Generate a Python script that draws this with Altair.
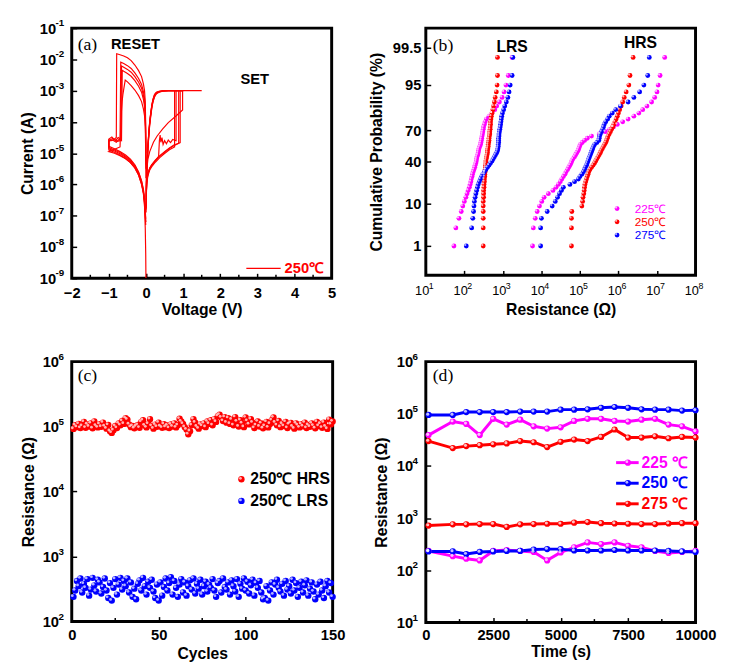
import altair as alt
import pandas as pd
from statistics import NormalDist

FONT = "Liberation Sans"
SERIF = "Liberation Serif"
RED, MAG, BLUE = "#ff0000", "#ff00ff", "#0000ff"

# ---------------- (a) I-V curves: (V, log10 I) ----------------
NEG_1 = [(-0.003, -5.0), (-0.01, -4.0), (-0.02, -3.35), (-0.04, -3.0), (-0.07, -2.78), (-0.12, -2.55),
         (-0.2, -2.36), (-0.3, -2.18), (-0.4, -2.04), (-0.5, -1.95), (-0.6, -1.89), (-0.7, -1.85),
         (-0.79, -1.82), (-0.8, -4.5), (-0.86, -4.56), (-0.92, -4.48), (-1.0, -4.55), (-1.0, -4.9),
         (-0.85, -4.97), (-0.7, -5.06), (-0.55, -5.17), (-0.42, -5.3), (-0.3, -5.47), (-0.2, -5.7),
         (-0.12, -6.0), (-0.07, -6.3), (-0.04, -6.7), (-0.02, -7.4), (-0.008, -8.2), (-0.002, -9.0)]
NEG_2 = [(-0.003, -5.25), (-0.01, -4.25), (-0.02, -3.6), (-0.04, -3.25), (-0.07, -3.03), (-0.12, -2.8),
         (-0.2, -2.61), (-0.3, -2.43), (-0.4, -2.29), (-0.5, -2.2), (-0.6, -2.13), (-0.68, -2.09),
         (-0.7, -4.6), (-0.78, -4.62), (-0.85, -4.55), (-0.93, -4.6), (-1.0, -4.57), (-1.0, -4.86),
         (-0.85, -4.93), (-0.7, -5.02), (-0.55, -5.13), (-0.42, -5.26), (-0.3, -5.43), (-0.2, -5.66),
         (-0.12, -5.95), (-0.07, -6.25), (-0.04, -6.6), (-0.02, -7.0), (-0.008, -7.3)]
NEG_3 = [(-0.003, -5.37), (-0.01, -4.37), (-0.02, -3.72), (-0.04, -3.37), (-0.07, -3.15), (-0.12, -2.92),
         (-0.2, -2.73), (-0.3, -2.55), (-0.4, -2.41), (-0.5, -2.32), (-0.6, -2.25), (-0.66, -2.21),
         (-0.68, -4.55), (-0.75, -4.5), (-0.82, -4.6), (-0.9, -4.53), (-1.0, -4.6), (-1.0, -4.82),
         (-0.85, -4.9), (-0.7, -4.98), (-0.55, -5.1), (-0.42, -5.22), (-0.3, -5.4), (-0.2, -5.62),
         (-0.12, -5.9), (-0.07, -6.2), (-0.04, -6.5), (-0.02, -6.9), (-0.008, -7.2)]
NEG_4 = [(-0.003, -5.5), (-0.01, -4.5), (-0.02, -3.85), (-0.04, -3.5), (-0.07, -3.28), (-0.12, -3.05),
         (-0.2, -2.86), (-0.3, -2.68), (-0.4, -2.54), (-0.5, -2.45), (-0.6, -2.38), (-0.64, -2.35),
         (-0.66, -4.6), (-0.72, -4.55), (-0.8, -4.65), (-0.9, -4.58), (-1.0, -4.62), (-1.0, -4.78),
         (-0.85, -4.86), (-0.7, -4.95), (-0.55, -5.06), (-0.42, -5.19), (-0.3, -5.37), (-0.2, -5.6),
         (-0.12, -5.88), (-0.07, -6.15), (-0.04, -6.45), (-0.02, -6.8), (-0.008, -7.1)]
NEG_5 = [(-0.003, -5.8), (-0.01, -4.8), (-0.02, -4.15), (-0.04, -3.8), (-0.07, -3.58), (-0.12, -3.35),
         (-0.2, -3.16), (-0.3, -2.98), (-0.4, -2.84), (-0.5, -2.72), (-0.56, -2.66), (-0.6, -2.95),
         (-0.62, -3.1), (-0.645, -3.35), (-0.66, -3.6), (-0.67, -3.9), (-0.69, -4.5), (-0.7, -4.8),
         (-0.8, -4.85), (-0.9, -4.9), (-1.0, -4.95), (-0.85, -5.0), (-0.7, -5.08), (-0.55, -5.18),
         (-0.42, -5.3), (-0.3, -5.47), (-0.2, -5.7), (-0.12, -5.98), (-0.07, -6.25), (-0.04, -6.55),
         (-0.02, -6.9), (-0.008, -7.2)]
POS_1 = [(0.002, -6.9), (0.008, -6.35), (0.02, -6.0), (0.05, -5.72), (0.1, -5.54), (0.15, -5.44),
         (0.25, -5.29), (0.37, -5.14), (0.5, -5.01), (0.63, -4.89), (0.77, -4.8), (0.77, -3.0),
         (1.0, -3.0), (0.6, -3.0), (0.45, -3.01), (0.35, -3.03), (0.28, -3.07), (0.23, -3.15),
         (0.19, -3.3), (0.16, -3.47), (0.13, -3.72), (0.1, -4.02), (0.075, -4.38), (0.05, -4.82),
         (0.03, -5.3), (0.015, -5.8), (0.005, -6.4)]
POS_2 = [(0.002, -6.8), (0.008, -6.3), (0.02, -5.95), (0.05, -5.68), (0.1, -5.5), (0.15, -5.4),
         (0.25, -5.25), (0.34, -5.1), (0.36, -4.6), (0.38, -4.42), (0.4, -4.65), (0.43, -4.5),
         (0.46, -4.72), (0.5, -4.6), (0.55, -4.7), (0.6, -4.58), (0.66, -4.66), (0.72, -4.56),
         (0.81, -4.6), (0.81, -3.0), (1.0, -3.0), (0.6, -3.0), (0.45, -3.01), (0.35, -3.04),
         (0.28, -3.09), (0.23, -3.18), (0.19, -3.33), (0.16, -3.5), (0.13, -3.76), (0.1, -4.06),
         (0.075, -4.42), (0.05, -4.86), (0.03, -5.35), (0.015, -5.85), (0.005, -6.45)]
POS_3 = [(0.002, -6.7), (0.008, -6.25), (0.02, -5.9), (0.05, -5.65), (0.1, -5.47), (0.15, -5.37),
         (0.25, -5.22), (0.37, -5.08), (0.5, -4.95), (0.63, -4.83), (0.75, -4.74), (0.88, -4.68),
         (0.88, -3.0), (1.5, -3.0), (0.6, -3.0), (0.45, -3.0), (0.35, -3.02), (0.28, -3.05),
         (0.23, -3.12), (0.19, -3.26), (0.16, -3.43), (0.13, -3.68), (0.1, -3.98), (0.075, -4.33),
         (0.05, -4.78), (0.03, -5.25), (0.015, -5.75), (0.005, -6.35)]
POS_4 = [(0.002, -6.75), (0.008, -6.3), (0.02, -5.92), (0.05, -5.66), (0.1, -5.49), (0.15, -5.39),
         (0.25, -5.24), (0.37, -5.1), (0.5, -4.97), (0.63, -4.85), (0.75, -4.76), (0.92, -4.66),
         (0.92, -3.0), (1.0, -3.0), (0.6, -3.0), (0.45, -3.01), (0.35, -3.03), (0.28, -3.06),
         (0.23, -3.14), (0.19, -3.28), (0.16, -3.45), (0.13, -3.7), (0.1, -4.0), (0.075, -4.36),
         (0.05, -4.8), (0.03, -5.28), (0.015, -5.78), (0.005, -6.38)]
POS_5 = [(0.003, -6.2), (0.01, -5.8), (0.02, -5.55), (0.05, -5.2), (0.1, -4.95), (0.2, -4.65),
         (0.3, -4.45), (0.45, -4.22), (0.6, -4.02), (0.8, -3.82), (0.985, -3.62), (0.985, -3.0),
         (1.0, -3.0), (0.6, -3.0), (0.45, -3.02), (0.35, -3.05), (0.28, -3.1), (0.23, -3.2),
         (0.19, -3.35), (0.16, -3.53), (0.13, -3.8), (0.1, -4.1), (0.075, -4.46), (0.05, -4.9),
         (0.03, -5.4), (0.015, -5.9), (0.005, -6.5)]
A_CURVES = [NEG_1, NEG_2, NEG_3, NEG_4, NEG_5, POS_1, POS_2, POS_3, POS_4, POS_5]
A_XTICKS = [-2, -1, 0, 1, 2, 3, 4, 5]
A_XMINOR = [-1.5, -0.5, 0.5, 1.5, 2.5, 3.5, 4.5]
A_YTICKS = [1e-9, 1e-8, 1e-7, 1e-6, 1e-5, 1e-4, 1e-3, 1e-2, 1e-1]

# ---------------- (b) cumulative distributions, log10(R) ----------------
LRS_225 = [1.73, 1.78, 1.86, 1.92, 1.96, 2.00, 2.04, 2.07, 2.10, 2.13, 2.15, 2.17, 2.18, 2.20, 2.21,
           2.23, 2.25, 2.27, 2.28, 2.30, 2.31, 2.32, 2.33, 2.35, 2.36, 2.37, 2.38, 2.40, 2.42, 2.43,
           2.44, 2.45, 2.46, 2.47, 2.48, 2.49, 2.50, 2.52, 2.54, 2.57, 2.64, 2.72, 2.79, 2.84, 2.91,
           2.98, 3.03, 3.08, 3.14, 3.24]
LRS_250 = [2.49, 2.49, 2.49, 2.49, 2.49, 2.49, 2.50, 2.50, 2.50, 2.51, 2.51, 2.52, 2.52, 2.53, 2.53,
           2.54, 2.54, 2.55, 2.55, 2.56, 2.56, 2.57, 2.58, 2.59, 2.60, 2.60, 2.61, 2.62, 2.62, 2.63,
           2.64, 2.64, 2.65, 2.66, 2.66, 2.67, 2.67, 2.68, 2.68, 2.69, 2.70, 2.72, 2.74, 2.76, 2.78,
           2.80, 2.83, 2.85, 2.86, 2.86]
LRS_275 = [2.05, 2.19, 2.22, 2.24, 2.25, 2.26, 2.28, 2.30, 2.32, 2.34, 2.36, 2.39, 2.42, 2.45, 2.48,
           2.52, 2.56, 2.60, 2.64, 2.68, 2.72, 2.75, 2.78, 2.81, 2.84, 2.86, 2.87, 2.88, 2.88, 2.89,
           2.89, 2.89, 2.90, 2.90, 2.91, 2.92, 2.93, 2.94, 2.95, 2.96, 2.97, 2.99, 3.02, 3.05, 3.09,
           3.13, 3.16, 3.19, 3.24, 3.26]
HRS_225 = [3.77, 3.79, 3.84, 3.89, 3.95, 4.01, 4.07, 4.18, 4.30, 4.38, 4.44, 4.49, 4.53, 4.57, 4.61,
           4.64, 4.68, 4.71, 4.74, 4.77, 4.79, 4.82, 4.86, 4.89, 4.92, 4.95, 4.97, 4.99, 5.01, 5.06,
           5.12, 5.19, 5.30, 5.50, 5.66, 5.77, 5.87, 5.97, 6.11, 6.25, 6.40, 6.53, 6.63, 6.74, 6.86,
           6.94, 7.00, 7.03, 7.08, 7.20]
HRS_250 = [4.78, 4.78, 4.78, 4.79, 5.05, 5.07, 5.08, 5.10, 5.11, 5.12, 5.13, 5.15, 5.17, 5.19, 5.21,
           5.23, 5.26, 5.30, 5.34, 5.38, 5.41, 5.44, 5.47, 5.50, 5.53, 5.55, 5.58, 5.61, 5.64, 5.67,
           5.69, 5.71, 5.73, 5.76, 5.79, 5.82, 5.85, 5.88, 5.91, 5.94, 5.97, 6.00, 6.03, 6.07, 6.11,
           6.15, 6.20, 6.27, 6.30, 6.38]
HRS_275 = [3.98, 3.98, 4.00, 4.15, 4.28, 4.36, 4.42, 4.47, 4.52, 4.57, 4.74, 4.86, 4.96, 5.00, 5.05,
           5.09, 5.12, 5.14, 5.17, 5.19, 5.21, 5.23, 5.25, 5.27, 5.29, 5.31, 5.33, 5.35, 5.38, 5.44,
           5.49, 5.50, 5.51, 5.53, 5.56, 5.59, 5.61, 5.63, 5.67, 5.72, 5.76, 5.84, 5.93, 6.05, 6.25,
           6.40, 6.55, 6.66, 6.76, 6.80]
B_TEMPS = ["225℃", "250℃", "275℃"]
B_COLORS = [MAG, RED, BLUE]
B_XTICKS = [1e1, 1e2, 1e3, 1e4, 1e5, 1e6, 1e7, 1e8]
PROB_TICKS = [1, 10, 40, 70, 95, 99.5]
PROB_LABELS = ["1", "10", "40", "70", "95", "99.5"]

# ---------------- (c) endurance ----------------
C_HRS = [0.92, 1.05, 0.98, 1.10, 0.95, 1.02, 1.18, 0.96, 1.08, 1.00,
         1.12, 0.94, 1.20, 1.03, 0.97, 1.09, 0.99, 1.15, 1.01, 0.93,
         1.06, 0.85, 0.80, 0.88, 1.02, 0.95, 1.12, 1.05, 1.22, 1.10,
         1.35, 1.28, 1.08, 0.98, 1.02, 0.94, 1.00, 1.06, 0.96, 1.18,
         1.25, 1.04, 0.97, 1.10, 1.30, 1.02, 0.93, 1.07, 0.99, 1.15,
         1.01, 0.96, 1.09, 0.98, 1.04, 0.95, 1.08, 1.00, 1.12, 0.97,
         1.05, 1.32, 1.20, 1.10, 0.98, 0.90, 0.76, 0.85, 1.05, 1.30,
         1.15, 1.00, 0.93, 1.08, 1.02, 1.12, 0.98, 1.20, 1.10, 1.25,
         1.05, 1.30, 1.18, 1.45, 1.52, 1.38, 1.22, 1.40, 1.15, 1.35,
         1.10, 1.28, 1.05, 1.40, 1.20, 1.00, 1.25, 1.12, 0.98, 1.38,
         1.22, 1.08, 1.30, 1.15, 0.95, 1.05, 1.20, 1.00, 1.12, 0.94,
         1.02, 1.18, 0.97, 1.10, 1.25, 1.38, 1.15, 1.05, 1.22, 0.98,
         1.10, 1.02, 1.18, 0.95, 1.08, 1.14, 1.00, 0.93, 1.12, 1.05,
         0.97, 1.09, 1.01, 1.15, 0.95, 1.06, 0.99, 1.12, 1.03, 0.94,
         1.18, 1.02, 1.10, 0.96, 1.15, 1.00, 0.92, 1.28, 1.08, 1.20]  # x 1e5 ohm
C_LRS = [240, 300, 420, 350, 460, 280, 380, 330, 450, 250,
         310, 470, 360, 290, 440, 400, 270, 340, 460, 300,
         230, 390, 210, 330, 450, 260, 370, 470, 310, 420,
         350, 460, 280, 400, 240, 320, 220, 380, 430, 300,
         470, 350, 260, 410, 330, 440, 290, 230, 370, 210,
         400, 250, 340, 460, 300, 390, 480, 260, 420, 330,
         240, 370, 450, 280, 400, 250, 350, 430, 310, 460,
         270, 380, 320, 440, 260, 350, 410, 290, 370, 330,
         450, 300, 240, 390, 420, 280, 460, 340, 310, 400,
         260, 430, 350, 290, 450, 240, 380, 320, 460, 300,
         410, 270, 360, 440, 250, 390, 330, 420, 280, 220,
         230, 350, 210, 300, 400, 260, 370, 440, 330, 290,
         380, 250, 420, 310, 350, 270, 440, 300, 390, 240,
         330, 410, 280, 360, 430, 250, 320, 400, 290, 220,
         370, 260, 410, 300, 230, 350, 420, 280, 390, 240]
C_XTICKS = [0, 50, 100, 150]
C_XMINOR = [25, 75, 125]
C_YTICKS = [1e2, 1e3, 1e4, 1e5, 1e6]

# ---------------- (d) retention ----------------
D_TIME = [100, 1000, 1500, 2000, 2500, 3000, 3500, 4000, 4500, 5000,
          5500, 6000, 6500, 7000, 7500, 8000, 8500, 9000, 9500, 10000]
D_HRS_225 = [3.9e4, 7.1e4, 6.4e4, 3.9e4, 8.0e4, 6.2e4, 7.7e4, 5.75e4, 5.2e4, 5.5e4,
             7.3e4, 8.0e4, 8.0e4, 7.3e4, 7.1e4, 7.7e4, 8.0e4, 6.2e4, 5.75e4, 4.6e4]
D_HRS_250 = [9.5e4, 9.5e4, 1.08e5, 1.08e5, 1.08e5, 1.08e5, 1.1e5, 1.1e5, 1.1e5, 1.2e5,
             1.2e5, 1.22e5, 1.3e5, 1.35e5, 1.3e5, 1.22e5, 1.2e5, 1.2e5, 1.15e5, 1.17e5]
D_HRS_275 = [3.0e4, 2.2e4, 2.4e4, 2.5e4, 2.6e4, 2.7e4, 3.0e4, 2.85e4, 2.3e4, 2.9e4,
             3.2e4, 3.0e4, 3.6e4, 5.0e4, 3.5e4, 3.5e4, 3.7e4, 3.4e4, 3.6e4, 3.5e4]
D_LRS_225 = [235, 187, 167, 155, 235, 245, 235, 225, 155, 220,
             275, 343, 318, 343, 295, 275, 235, 215, 225, 235]
D_LRS_250 = [230, 230, 205, 225, 230, 235, 235, 250, 255, 255,
             240, 240, 240, 245, 240, 240, 240, 235, 230, 225]
D_LRS_275 = [720, 760, 760, 770, 770, 680, 760, 770, 780, 780,
             820, 840, 800, 790, 780, 770, 770, 790, 800, 800]
D_TEMPS = ["225 ℃", "250 ℃", "275 ℃"]
D_COLORS = [MAG, BLUE, RED]
D_XTICKS = [0, 2500, 5000, 7500, 10000]
D_XMINOR = [1250, 3750, 6250, 8750]
D_YTICKS = [1e1, 1e2, 1e3, 1e4, 1e5, 1e6]


def axis(title, values, label_expr=None, bold=True, size=15, **extra):
    kw = dict(title=title, values=values, grid=False, domain=False, ticks=True, tickSize=5,
              tickWidth=1.5, tickColor="black", offset=-5, labelPadding=5, labelFont=FONT,
              labelFontSize=size, labelFontWeight="bold" if bold else "normal", labelColor="black",
              labelFlush=False, labelOverlap=False, titleFont=FONT, titleFontSize=16,
              titleFontWeight="bold", titleColor="black", titlePadding=3)
    if label_expr:
        kw["labelExpr"] = label_expr
    kw.update(extra)
    return alt.Axis(**kw)


def text(txt, x, y, color="black", size=15, weight="bold", font=FONT):
    return alt.Chart(pd.DataFrame({"t": [txt]})).mark_text(
        align="left", baseline="middle", font=font, fontSize=size, fontWeight=weight, color=color
    ).encode(x=alt.value(x), y=alt.value(y), text="t:N")


def dot(x, y, color, size):
    base = alt.Chart(pd.DataFrame({"t": [0]}))
    return (base.mark_circle(size=size, color=color, opacity=1).encode(x=alt.value(x), y=alt.value(y))
            + base.mark_circle(size=size / 5, color="white", opacity=0.7).encode(
                x=alt.value(x - 1), y=alt.value(y - 1)))


def hline(x1, x2, y, color, width):
    return alt.Chart(pd.DataFrame({"t": [0]})).mark_rule(color=color, strokeWidth=width).encode(
        x=alt.value(x1), x2=alt.value(x2), y=alt.value(y))


def y_exponents(values, scale, ax, x_px, dy=-5, size=10):
    # exponent part of the "10^n" tick labels, placed through the panel's own y scale
    return alt.Chart(pd.DataFrame({"v": values})).transform_calculate(
        e="'' + round(log(datum.v) / LN10)").mark_text(
        align="left", baseline="middle", font=FONT, fontSize=size, fontWeight="bold", color="black", dy=dy
    ).encode(x=alt.value(x_px), y=alt.Y("v:Q", scale=scale, axis=ax), text="e:N")


def x_minor(values, scale, ax, height):
    return alt.Chart(pd.DataFrame({"v": values})).mark_rule(color="black", strokeWidth=1.5).encode(
        x=alt.X("v:Q", scale=scale, axis=ax), y=alt.value(height - 3.5), y2=alt.value(height))


# ---------- panel a ----------
a_rows = [dict(curve=c, k=k, V=v, logI=li) for c, pts in enumerate(A_CURVES) for k, (v, li) in enumerate(pts)]
a_xs = alt.Scale(domain=[-2, 5], nice=False)
a_ys = alt.Scale(type="log", domain=[1e-9, 1e-1], nice=False)
a_xa = axis("Voltage (V)", A_XTICKS, labelPadding=8, titleY=37, titleBaseline="middle")
a_ya = axis("Current (A)", A_YTICKS, "'10'", labelPadding=16.5, titlePadding=4)
a_lines = alt.Chart(pd.DataFrame(a_rows)).transform_calculate(I="pow(10, datum.logI)").mark_line(
    color=RED, strokeWidth=1.2, clip=True).encode(
    x=alt.X("V:Q", scale=a_xs, axis=a_xa), y=alt.Y("I:Q", scale=a_ys, axis=a_ya),
    detail="curve:N", order="k:Q")
panel_a = alt.layer(
    a_lines,
    y_exponents(A_YTICKS, a_ys, a_ya, -16.5),
    x_minor(A_XMINOR, a_xs, a_xa, 255),
    text("(a)", 6, 17, size=18, weight="normal", font=SERIF),
    text("RESET", 40, 16),
    text("SET", 172, 52),
    hline(178, 213, 245, RED, 1.2),
    text("250℃", 217, 245, color=RED, size=15),
).properties(width=265, height=255)

# ---------- panel b ----------
b_rows = []
for temp, state, vals in [("225℃", "LRS", LRS_225), ("250℃", "LRS", LRS_250), ("275℃", "LRS", LRS_275),
                          ("225℃", "HRS", HRS_225), ("250℃", "HRS", HRS_250), ("275℃", "HRS", HRS_275)]:
    for v in vals:
        b_rows.append(dict(series=temp, state=state, logR=v))
z_ticks = [NormalDist().inv_cdf(p / 100) for p in PROB_TICKS]
prob_expr = ""
for i in range(len(z_ticks) - 1):
    mid = (z_ticks[i] + z_ticks[i + 1]) / 2
    prob_expr += f"datum.value < {mid:.4f} ? '{PROB_LABELS[i]}' : "
prob_expr += f"'{PROB_LABELS[-1]}'"

b_base = alt.Chart(pd.DataFrame(b_rows)).transform_window(
    rank="row_number()", groupby=["series", "state"], sort=[alt.SortField("logR")]
).transform_joinaggregate(n="count()", groupby=["series", "state"]).transform_calculate(
    R="pow(10, datum.logR)", z="quantileNormal((datum.rank - 0.5) / datum.n)")
b_xs = alt.Scale(type="log", domain=[10, 1e8], nice=False)
b_xa = axis("Resistance (Ω)", B_XTICKS, "'10'", bold=False, size=13, labelAlign="right",
            labelOffset=3, labelPadding=10, titlePadding=4)
bx = alt.X("R:Q", scale=b_xs, axis=b_xa)
by = alt.Y("z:Q", scale=alt.Scale(domain=[-3.05, 3.05], nice=False, zero=False),
           axis=axis("Cumulative Probability (%)", z_ticks, prob_expr, titlePadding=8))
b_pts = b_base.mark_circle(size=24, opacity=1).encode(
    x=bx, y=by, color=alt.Color("series:N", scale=alt.Scale(domain=B_TEMPS, range=B_COLORS), legend=None))
b_hi = b_base.mark_circle(size=5, color="white", opacity=0.7, xOffset=-1, yOffset=-1).encode(x=bx, y=by)
b_exp = alt.Chart(pd.DataFrame({"v": B_XTICKS})).transform_calculate(
    e="'' + round(log(datum.v) / LN10)").mark_text(
    align="left", baseline="middle", font=FONT, fontSize=9, color="black", dx=3
).encode(x=alt.X("v:Q", scale=b_xs, axis=b_xa), y=alt.value(263), text="e:N")
b_layers = [b_pts, b_hi, b_exp, text("(b)", 7, 18, size=18, weight="normal", font=SERIF),
            text("LRS", 72, 19, size=16), text("HRS", 202, 15, size=16)]
for i, (t, c) in enumerate(zip(B_TEMPS, B_COLORS)):
    b_layers += [dot(195, 184 + 13.5 * i, c, 24), text(t, 213, 184 + 13.5 * i, color=c, size=12, weight="normal")]
panel_b = alt.layer(*b_layers).properties(width=275, height=252)

# ---------- panel c ----------
c_rows = [dict(cycle=i + 1, state="HRS", R=v * 1e5) for i, v in enumerate(C_HRS)] + \
         [dict(cycle=i + 1, state="LRS", R=v) for i, v in enumerate(C_LRS)]
c_base = alt.Chart(pd.DataFrame(c_rows))
c_xs = alt.Scale(domain=[0, 150], nice=False)
c_ys = alt.Scale(type="log", domain=[1e2, 1e6], nice=False)
c_xa = axis("Cycles", C_XTICKS, labelPadding=6, titleY=38, titleBaseline="middle")
c_ya = axis("Resistance (Ω)", C_YTICKS, "'10'", labelPadding=13.5, titlePadding=6)
cx = alt.X("cycle:Q", scale=c_xs, axis=c_xa)
cy = alt.Y("R:Q", scale=c_ys, axis=c_ya)
c_pts = c_base.mark_circle(size=42, opacity=1).encode(
    x=cx, y=cy, color=alt.Color("state:N", scale=alt.Scale(domain=["HRS", "LRS"], range=[RED, BLUE]), legend=None))
c_hi = c_base.mark_circle(size=8, color="white", opacity=0.7, xOffset=-1.2, yOffset=-1.2).encode(x=cx, y=cy)
panel_c = alt.layer(
    c_pts, c_hi,
    y_exponents(C_YTICKS, c_ys, c_ya, -13.5),
    x_minor(C_XMINOR, c_xs, c_xa, 265),
    text("(c)", 6, 15, size=18, weight="normal", font=SERIF),
    dot(173, 120, RED, 42), text("250℃ HRS", 182, 120, size=16),
    dot(173, 142, BLUE, 42), text("250℃ LRS", 182, 142, size=16),
).properties(width=266, height=265)

# ---------- panel d ----------
d_rows = []
for temp, state, vals in [("225 ℃", "HRS", D_HRS_225), ("250 ℃", "HRS", D_HRS_250), ("275 ℃", "HRS", D_HRS_275),
                          ("225 ℃", "LRS", D_LRS_225), ("250 ℃", "LRS", D_LRS_250), ("275 ℃", "LRS", D_LRS_275)]:
    for t, v in zip(D_TIME, vals):
        d_rows.append(dict(series=temp, state=state, t=t, R=v))
d_base = alt.Chart(pd.DataFrame(d_rows))
d_xs = alt.Scale(domain=[0, 10000], nice=False)
d_ys = alt.Scale(type="log", domain=[1e1, 1e6], nice=False)
d_xa = axis("Time (s)", D_XTICKS, format="d", labelPadding=5, titleY=35, titleBaseline="middle")
d_ya = axis("Resistance (Ω)", D_YTICKS, "'10'", labelPadding=13.5, titlePadding=7)
dx = alt.X("t:Q", scale=d_xs, axis=d_xa)
dy = alt.Y("R:Q", scale=d_ys, axis=d_ya)
dcol = alt.Color("series:N", scale=alt.Scale(domain=D_TEMPS, range=D_COLORS), legend=None)
d_line = d_base.mark_line(strokeWidth=3).encode(x=dx, y=dy, color=dcol, detail="state:N")
d_pts = d_base.mark_circle(size=40, opacity=1).encode(x=dx, y=dy, color=dcol)
d_hi = d_base.mark_circle(size=10, color="white", opacity=0.75, xOffset=-0.8, yOffset=-0.8).encode(x=dx, y=dy)
d_layers = [d_line, d_pts, d_hi, y_exponents(D_YTICKS, d_ys, d_ya, -13.5), x_minor(D_XMINOR, d_xs, d_xa, 266),
            text("(d)", 7, 15, size=18, weight="normal", font=SERIF)]
for i, (t, c) in enumerate(zip(D_TEMPS, D_COLORS)):
    yy = 103 + 21 * i
    d_layers += [hline(194, 217, yy, c, 3), dot(206, yy, c, 40), text(t, 220, yy, color=c, size=16)]
panel_d = alt.layer(*d_layers).properties(width=275, height=266)

top = alt.hconcat(panel_a, panel_b, spacing=96, bounds="flush").resolve_scale(color="independent")
bottom = alt.hconcat(panel_c, panel_d, spacing=95, bounds="flush").resolve_scale(color="independent")
chart = alt.vconcat(top, bottom, spacing=31).resolve_scale(color="independent").properties(
    padding={"left": 10, "top": 2, "right": 5, "bottom": 5}
).configure_view(stroke="black", strokeWidth=3)

chart.save("out.html", embed_options={"renderer": "svg", "actions": False})
